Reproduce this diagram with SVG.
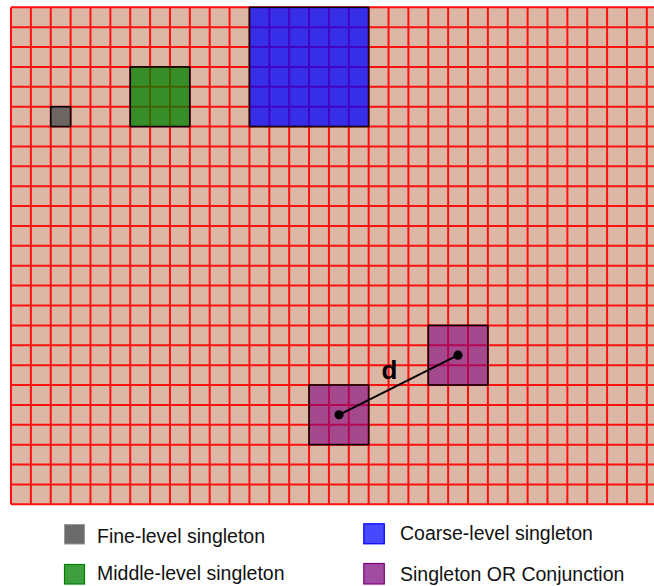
<svg xmlns="http://www.w3.org/2000/svg" width="654" height="586" viewBox="0 0 654 586">
<style>
.grid{fill:none;stroke:#ff1010;stroke-width:2}
.box{stroke:#000;stroke-width:1.5}
.lg{font-family:"Liberation Sans",Arial,sans-serif;font-size:19.5px;fill:#111}
.conn{stroke:#000;stroke-width:2;fill:none}
</style>
<rect width="654" height="586" fill="#fff"/>
<g id="grid">
<rect x="11" y="7.3" width="643" height="497" fill="#dcb7a5"/>
<path class="grid" d="M11 7.3V504.3M30.87 7.3V504.3M50.74 7.3V504.3M70.61 7.3V504.3M90.48 7.3V504.3M110.35 7.3V504.3M130.22 7.3V504.3M150.09 7.3V504.3M169.96 7.3V504.3M189.83 7.3V504.3M209.7 7.3V504.3M229.57 7.3V504.3M249.44 7.3V504.3M269.31 7.3V504.3M289.18 7.3V504.3M309.05 7.3V504.3M328.92 7.3V504.3M348.79 7.3V504.3M368.66 7.3V504.3M388.53 7.3V504.3M408.4 7.3V504.3M428.27 7.3V504.3M448.14 7.3V504.3M468.01 7.3V504.3M487.88 7.3V504.3M507.75 7.3V504.3M527.62 7.3V504.3M547.49 7.3V504.3M567.36 7.3V504.3M587.23 7.3V504.3M607.1 7.3V504.3M626.97 7.3V504.3M646.84 7.3V504.3
M11 7.3H654M11 27.18H654M11 47.06H654M11 66.94H654M11 86.82H654M11 106.7H654M11 126.58H654M11 146.46H654M11 166.34H654M11 186.22H654M11 206.1H654M11 225.98H654M11 245.86H654M11 265.74H654M11 285.62H654M11 305.5H654M11 325.38H654M11 345.26H654M11 365.14H654M11 385.02H654M11 404.9H654M11 424.78H654M11 444.66H654M11 464.54H654M11 484.42H654M11 504.3H654"/>
</g>
<g id="fine-singleton">
<rect class="box" x="50.74" y="106.7" width="19.87" height="19.88" fill="#505050" fill-opacity="0.8"/>
</g>
<g id="middle-singleton">
<rect class="box" x="130.22" y="66.94" width="59.61" height="59.64" fill="#008000" fill-opacity="0.75"/>
</g>
<g id="coarse-singleton">
<rect class="box" x="249.44" y="7.3" width="119.22" height="119.28" fill="#0000ff" fill-opacity="0.75"/>
</g>
<g id="conj-a">
<rect class="box" x="309.05" y="385.02" width="59.61" height="59.64" fill="#800080" fill-opacity="0.6"/>
</g>
<g id="conj-b">
<rect class="box" x="428.27" y="325.38" width="59.61" height="59.64" fill="#800080" fill-opacity="0.6"/>
</g>
<g id="connectors">
<line class="conn" x1="339" y1="414.8" x2="458" y2="355.2"/>
<circle cx="339" cy="414.8" r="4.6" fill="#000"/>
<circle cx="458" cy="355.2" r="4.6" fill="#000"/>
<text x="389.5" y="379" text-anchor="middle" font-family="Liberation Sans,Arial,sans-serif" font-weight="bold" font-size="26" fill="#000">d</text>
</g>
<g id="legend">
<rect x="64.5" y="524.5" width="20" height="19.5" fill="#6b6b6b" stroke="#9a9a9a" stroke-width="1"/>
<text class="lg" x="97" y="543">Fine-level singleton</text>
<rect x="64.5" y="564.5" width="20" height="19.5" fill="#3f9f3f" stroke="#008000" stroke-width="1.2"/>
<text class="lg" x="97" y="580">Middle-level singleton</text>
<rect x="363.8" y="523.8" width="20.5" height="20" fill="#4848ff" stroke="#0000ff" stroke-width="1.2"/>
<text class="lg" x="400" y="539.5">Coarse-level singleton</text>
<rect x="363.8" y="563.5" width="20.5" height="20.5" fill="#a04ca0" stroke="#800080" stroke-width="1.2"/>
<text class="lg" x="400" y="580.5">Singleton OR Conjunction</text>
</g>
</svg>
